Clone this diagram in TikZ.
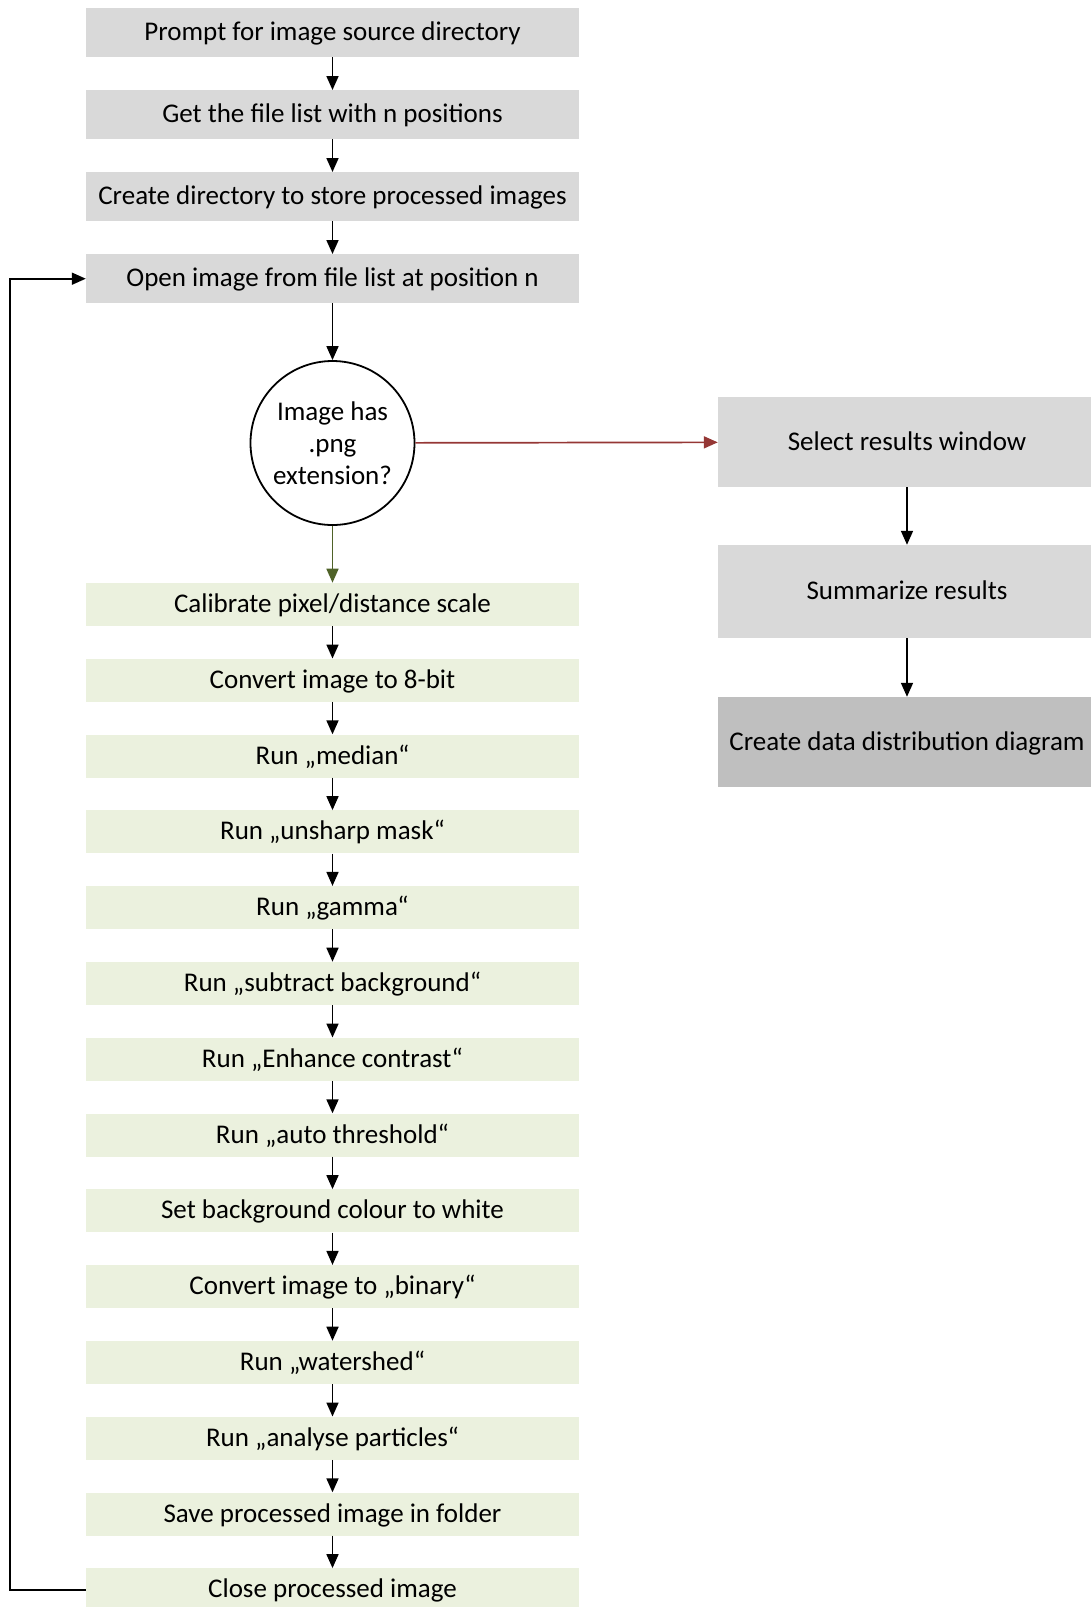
\documentclass[tikz,border=0pt]{standalone}
\usepackage{fontspec}
\setmainfont{Carlito}
\usetikzlibrary{arrows.meta}
\definecolor{boxgray}{HTML}{D9D9D9}
\definecolor{boxdark}{HTML}{BFBFBF}
\definecolor{boxgreen}{HTML}{EBF1DE}
\definecolor{arrred}{HTML}{953735}
\definecolor{arrgreen}{HTML}{4F6228}
\begin{document}
\begin{tikzpicture}[x=1pt,y=-1pt,
  every node/.style={font=\fontsize{27}{32}\selectfont, inner sep=0pt},
  boxtext/.style={text height=23pt, text depth=7pt},
  graybox/.style={boxtext, fill=boxgray, minimum width=493pt, minimum height=49pt},
  greenbox/.style={boxtext, fill=boxgreen, minimum width=493pt, minimum height=43pt},
  rightbox/.style={boxtext, fill=boxgray, minimum width=378pt, minimum height=90pt},
  darkbox/.style={boxtext, fill=boxdark, minimum width=378pt, minimum height=90pt},
  decision/.style={circle, draw=black, line width=1.8pt, minimum size=164pt, align=center, font=\fontsize{27}{32}\selectfont},
  arr/.style={line width=1.7pt, -{Triangle[length=14pt,width=12pt]}}]
\useasboundingbox (0,0) rectangle (1091,1607);
\clip (0,0) rectangle (1091,1607);
% gray boxes
\node[graybox] (b1) at (332.5,32.7) {Prompt for image source directory};
\node[graybox] (b2) at (332.5,114.7) {Get the file list with n positions};
\node[graybox] (b3) at (332.5,196.7) {Create directory to store processed images};
\node[graybox] (b4) at (332.5,278.7) {Open image from file list at position n};
% decision
\node[decision] (dec) at (332.5,443) {Image has\\.png\\extension?};
% right column
\node[rightbox] (r1) at (907,442) {Select results window};
\node[rightbox, minimum height=93pt] (r2) at (907,591.5) {Summarize results};
\node[darkbox] (r3) at (907,742) {Create data distribution diagram};
% green boxes
\node[greenbox] (g0) at (332.5,604.4) {Calibrate pixel/distance scale};
\node[greenbox] (g1) at (332.5,680.2) {Convert image to 8-bit};
\node[greenbox] (g2) at (332.5,756.0) {Run „median“};
\node[greenbox] (g3) at (332.5,831.8) {Run „unsharp mask“};
\node[greenbox] (g4) at (332.5,907.6) {Run „gamma“};
\node[greenbox] (g5) at (332.5,983.4) {Run „subtract background“};
\node[greenbox] (g6) at (332.5,1059.2) {Run „Enhance contrast“};
\node[greenbox] (g7) at (332.5,1135.0) {Run „auto threshold“};
\node[greenbox] (g8) at (332.5,1210.8) {Set background colour to white};
\node[greenbox] (g9) at (332.5,1286.6) {Convert image to „binary“};
\node[greenbox] (g10) at (332.5,1362.4) {Run „watershed“};
\node[greenbox] (g11) at (332.5,1438.2) {Run „analyse particles“};
\node[greenbox] (g12) at (332.5,1514.0) {Save processed image in folder};
\node[greenbox] (g13) at (332.5,1589.8) {Close processed image};
% connectors
\draw[arr] (b1) -- (b2);
\draw[arr] (b2) -- (b3);
\draw[arr] (b3) -- (b4);
\draw[arr] (b4) -- (dec);
\draw[arr, draw=arrred, fill=arrred] (dec) -- (r1);
\draw[arr, draw=arrgreen, fill=arrgreen] (dec) -- (g0);
\draw[arr] (r1) -- (r2);
\draw[arr] (r2) -- (r3);
\foreach \a/\b in {g0/g1,g1/g2,g2/g3,g3/g4,g4/g5,g5/g6,g6/g7,g7/g8,g8/g9,g9/g10,g10/g11,g11/g12,g12/g13}
  \draw[arr] (\a) -- (\b);
\coordinate (loopcorner) at (10,1589.8);
\draw[arr] (g13.west) -- (loopcorner) |- (b4.west);
\end{tikzpicture}
\end{document}
